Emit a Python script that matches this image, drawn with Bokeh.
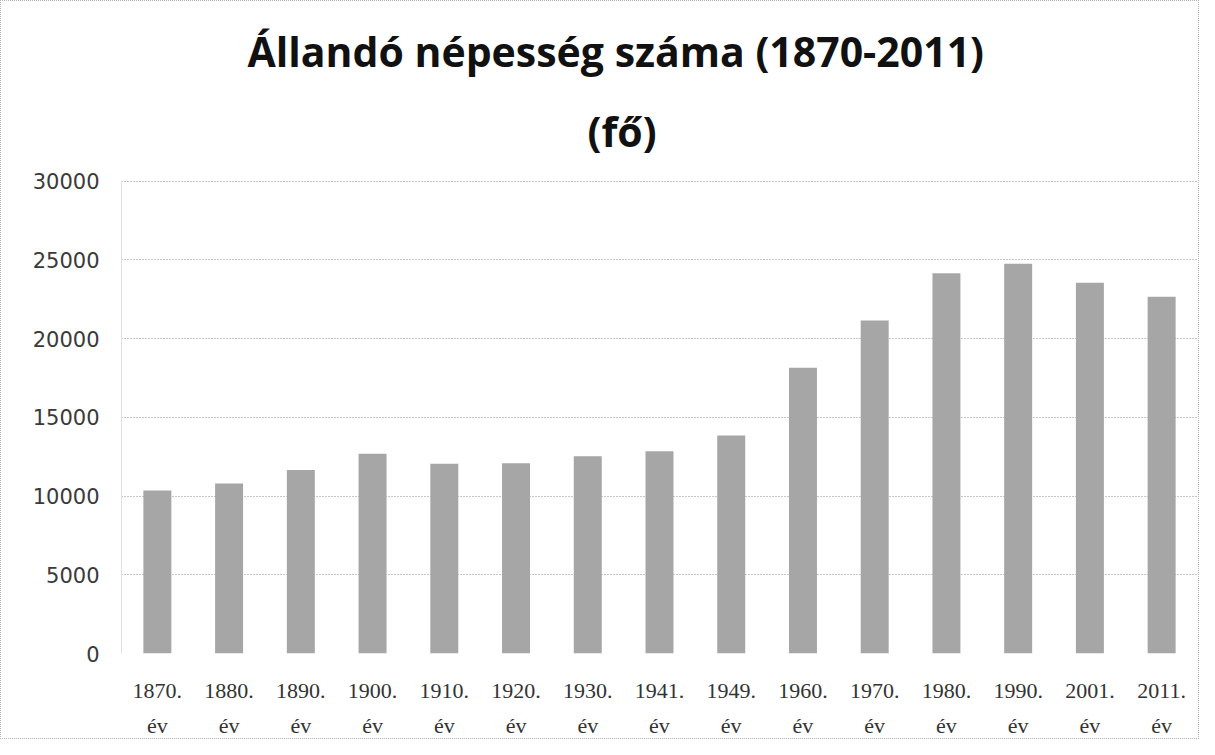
from bokeh.plotting import figure
from bokeh.models import Title, FixedTicker
from bokeh.embed import file_html
from bokeh.resources import INLINE

years = ["1870", "1880", "1890", "1900", "1910", "1920", "1930", "1941",
         "1949", "1960", "1970", "1980", "1990", "2001", "2011"]
categories = [f"{y}.\név" for y in years]
population = [10350, 10800, 11650, 12680, 12050, 12080, 12520, 12850,
              13850, 18150, 21150, 24150, 24750, 23550, 22650]
y_ticks = [0, 5000, 10000, 15000, 20000, 25000, 30000]

p = figure(width=1199, height=739, x_range=categories, y_range=(0, 30040),
           output_backend="svg", toolbar_location=None, title=None,
           min_border_left=120, min_border_right=3, min_border_bottom=83,
           min_border_top=179)
p.styles = {"border": "1px dotted #b5b5b5"}

p.vbar(x=categories, top=population, width=0.39, fill_color="#a6a6a6",
       line_color=None)

sub = Title(text="(fő)", align="left", text_font="Open Sans",
            text_font_size="41px", text_font_style="bold", text_color="#111111",
            standoff=44, offset=466)
main = Title(text="Állandó népesség száma (1870-2011)", align="left",
             text_font="Open Sans", text_font_size="41px", text_font_style="bold",
             text_color="#111111", standoff=0, offset=126)
p.add_layout(sub, "above")
p.add_layout(main, "above")

p.outline_line_color = None
p.xgrid.grid_line_color = None
p.ygrid.grid_line_color = "#8c8c8c"
p.ygrid.grid_line_dash = "1 2"
p.ygrid.grid_line_width = 1

p.yaxis.ticker = FixedTicker(ticks=y_ticks)
p.yaxis.axis_line_color = "#e0e0e0"
p.yaxis.major_tick_line_color = None
p.yaxis.minor_tick_line_color = None
p.yaxis.major_label_standoff = 16
p.yaxis.major_label_text_font = "DejaVu Sans"
p.yaxis.major_label_text_font_size = "21px"
p.yaxis.major_label_text_color = "#3a3a3a"

p.xaxis.axis_line_color = None
p.xaxis.major_tick_line_color = None
p.xaxis.major_label_standoff = 18
p.xaxis.major_label_text_font = "Liberation Serif"
p.xaxis.major_label_text_font_size = "22px"
p.xaxis.major_label_text_color = "#333333"
p.xaxis.major_label_text_line_height = 1.4

open("out.html", "w").write(file_html(p, INLINE))
